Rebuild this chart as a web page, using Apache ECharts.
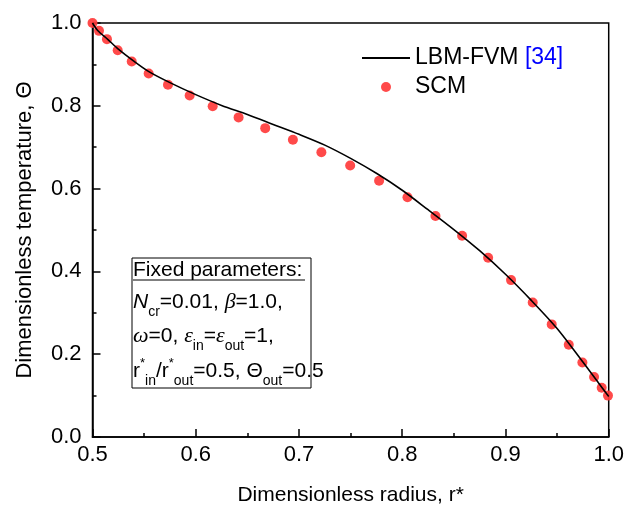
<!DOCTYPE html>
<html><head><meta charset="utf-8">
<script src="https://cdn.jsdelivr.net/npm/echarts@6/dist/echarts.min.js"></script>
<style>html,body{margin:0;padding:0;background:#fff}#c{width:627px;height:511px}</style>
</head><body><div id="c"></div>
<script>
// LBM-FVM [34] reference curve
const lineR = [0.5, 0.505, 0.515, 0.525, 0.54, 0.555, 0.575, 0.6, 0.625, 0.65, 0.675, 0.7, 0.725, 0.75, 0.775, 0.8, 0.825, 0.85, 0.875, 0.9, 0.925, 0.95, 0.975, 0.99, 1.0];
const lineT = [1.0, 0.982, 0.960, 0.937, 0.908, 0.882, 0.856, 0.827, 0.801, 0.779, 0.755, 0.731, 0.705, 0.673, 0.637, 0.596, 0.549, 0.501, 0.450, 0.393, 0.330, 0.262, 0.181, 0.131, 0.098];
// SCM points
const scmR = [0.5, 0.5063, 0.514, 0.5244, 0.538, 0.5544, 0.5731, 0.5941, 0.6164, 0.6415, 0.6673, 0.6941, 0.7217, 0.7496, 0.7776, 0.8051, 0.8322, 0.858, 0.8832, 0.9054, 0.9264, 0.9448, 0.9613, 0.9745, 0.9858, 0.9932, 0.9993];
const scmT = [1.0, 0.981, 0.961, 0.934, 0.907, 0.878, 0.851, 0.825, 0.799, 0.772, 0.746, 0.718, 0.688, 0.656, 0.619, 0.579, 0.534, 0.486, 0.433, 0.379, 0.325, 0.272, 0.223, 0.180, 0.145, 0.119, 0.100];
const seriesNames = ['LBM-FVM', 'SCM'];

const F = 'Liberation Sans, Arial, sans-serif';
const G = 'Liberation Serif, Times New Roman, serif';
const chart = echarts.init(document.getElementById('c'), null, {renderer: 'canvas'});

const H = 34;
const rich = {
  m: {fontFamily: F, fontSize: 21, color: '#000', lineHeight: H},
  i: {fontFamily: F, fontSize: 21, fontStyle: 'italic', color: '#000', lineHeight: H},
  g: {fontFamily: G, fontSize: 22, fontStyle: 'italic', color: '#000', lineHeight: H},
  s: {fontFamily: F, fontSize: 14, color: '#000', lineHeight: 14, padding: [20, 0, 0, 0]},
  p: {fontFamily: F, fontSize: 13, color: '#000', lineHeight: 14, padding: [2, 0, 18, 0]}
};
function txt(y, str) {
  return {type: 'text', left: 133, top: y - H / 2, z: 10,
    style: {text: str, rich: rich, fill: '#000'}};
}

chart.setOption({
  backgroundColor: '#fff',
  animation: false,
  grid: {left: 92.5, right: 18, top: 23, bottom: 72, show: true, borderColor: '#000', borderWidth: 1.5, backgroundColor: 'transparent'},
  legend: {
    data: [{name: seriesNames[0], itemStyle: {opacity: 0}}, {name: seriesNames[1]}],
    orient: 'vertical', left: 356, top: 41,
    itemWidth: 48, itemHeight: 10, itemGap: 5,
    textStyle: {fontFamily: F, fontSize: 23, color: '#000', lineHeight: 24,
      rich: {b: {fontFamily: F, fontSize: 23, color: '#0000ff', lineHeight: 24}}},
    formatter: n => n === 'LBM-FVM' ? 'LBM-FVM {b|[34]}' : n
  },
  xAxis: {
    type: 'value', min: 0.5, max: 1.0, interval: 0.1,
    name: 'Dimensionless radius, r*', nameLocation: 'middle', nameGap: 48,
    nameTextStyle: {fontFamily: F, fontSize: 21, color: '#000'},
    axisLine: {lineStyle: {color: '#000', width: 1.5}},
    axisTick: {inside: true, length: 8, lineStyle: {color: '#000', width: 1.5}},
    minorTick: {show: true, splitNumber: 2, length: 4, lineStyle: {color: '#000', width: 1.5}},
    splitLine: {show: false},
    axisLabel: {fontFamily: F, fontSize: 22, color: '#000', margin: 7, formatter: v => v.toFixed(1)}
  },
  yAxis: {
    type: 'value', min: 0, max: 1.0, interval: 0.2,
    name: 'Dimensionless temperature, Θ', nameLocation: 'middle', nameGap: 57,
    nameTextStyle: {fontFamily: F, fontSize: 22, color: '#000'},
    axisLine: {lineStyle: {color: '#000', width: 1.5}},
    axisTick: {inside: true, length: 8, lineStyle: {color: '#000', width: 1.5}},
    minorTick: {show: true, splitNumber: 2, length: 4, lineStyle: {color: '#000', width: 1.5}},
    splitLine: {show: false},
    axisLabel: {fontFamily: F, fontSize: 22, color: '#000', margin: 11, formatter: v => v.toFixed(1)}
  },
  series: [
    {name: 'LBM-FVM', type: 'line', z: 5, symbol: 'none', smooth: 0.3,
      lineStyle: {color: '#000', width: 1.6}, itemStyle: {color: '#000'},
      data: lineR.map((r, k) => [r, lineT[k]])},
    {name: 'SCM', type: 'scatter', z: 4, symbolSize: 10,
      itemStyle: {color: '#ff3b3b', opacity: 0.92},
      data: scmR.map((r, k) => [r, scmT[k]])}
  ],
  graphic: [
    {type: 'rect', left: 131.5, top: 257.5, z: 9,
      shape: {width: 179, height: 130}, style: {fill: '#fff', stroke: '#000', lineWidth: 1}},
    {type: 'line', z: 10, shape: {x1: 133, y1: 280, x2: 305, y2: 280}, style: {stroke: '#000', lineWidth: 1}},
    txt(277, '{m|Fixed parameters:}'),
    txt(302, '{i|N}{s|cr}{m|=0.01, }{g|β}{m|=1.0,}'),
    txt(336, '{g|ω}{m|=0, }{g|ε}{s|in}{m|=}{g|ε}{s|out}{m|=1,}'),
    txt(371, '{m|r}{p|*}{s|in}{m|/r}{p|*}{s|out}{m|=0.5, Θ}{s|out}{m|=0.5}')
  ]
});
</script></body></html>
